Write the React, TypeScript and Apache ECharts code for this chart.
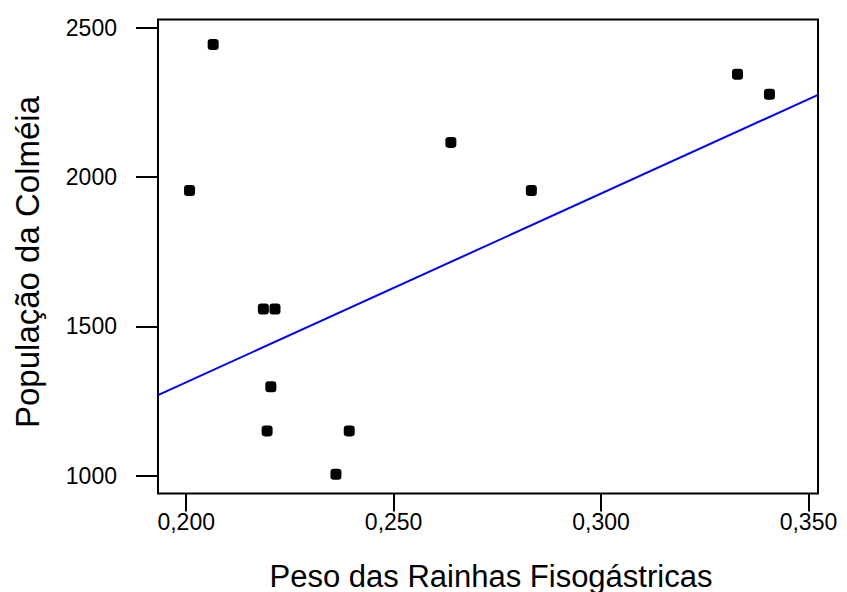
import React, { useEffect, useRef } from "react";
import * as echarts from "echarts";

const xValues = [0.2065, 0.2008, 0.2186, 0.2214, 0.2204, 0.2195, 0.2393, 0.2361, 0.2638, 0.2832, 0.3329, 0.3406];
const yValues = [2444, 1955, 1558, 1558, 1298, 1150, 1150, 1005, 2116, 1955, 2344, 2277];
const fitX = [0.1932, 0.3523];
const fitY = [1270, 2275];
const xTicks = [0.2, 0.25, 0.3, 0.35];
const yTicks = [1000, 1500, 2000, 2500];
const xTitle = "Peso das Rainhas Fisogástricas";
const yTitle = "População da Colméia";

const FONT = "'Liberation Sans', Arial, sans-serif";
const MARKER = "path://M3,0 H7 A3,3 0 0 1 10,3 V7 A3,3 0 0 1 7,10 H3 A3,3 0 0 1 0,7 V3 A3,3 0 0 1 3,0 Z";

export default function App() {
  const ref = useRef<HTMLDivElement>(null);
  useEffect(() => {
    if (!ref.current) return;
    const chart = echarts.init(ref.current, null, { renderer: "svg" });
    const points = xValues.map((x, i) => [x, yValues[i]]);
    const fit = fitX.map((x, i) => [x, fitY[i]]);
    chart.setOption({
      animation: false,
      backgroundColor: "#ffffff",
      grid: {
        left: 158,
        top: 19.5,
        width: 660,
        height: 474,
        show: true,
        borderColor: "#000",
        borderWidth: 2,
        backgroundColor: "transparent",
      },
      xAxis: {
        type: "value",
        min: 0.1932,
        max: 0.3523,
        splitLine: { show: false },
        axisLine: { show: false },
        axisTick: {
          show: true,
          customValues: xTicks,
          length: 18,
          lineStyle: { color: "#000", width: 2 },
        },
        axisLabel: {
          customValues: xTicks,
          margin: 17,
          color: "#000",
          fontSize: 23,
          fontFamily: FONT,
          formatter: (v: number) => v.toFixed(3).replace(".", ","),
        },
      },
      yAxis: {
        type: "value",
        min: 940.4,
        max: 2527.5,
        splitLine: { show: false },
        axisLine: { show: false },
        axisTick: {
          show: true,
          customValues: yTicks,
          length: 22,
          lineStyle: { color: "#000", width: 2 },
        },
        axisLabel: {
          customValues: yTicks,
          margin: 41,
          color: "#000",
          fontSize: 23,
          fontFamily: FONT,
          formatter: (v: number) => String(Math.round(v)),
        },
      },
      graphic: [
        {
          type: "text",
          x: 491,
          y: 576,
          style: {
            text: xTitle,
            fontSize: 31,
            fontFamily: FONT,
            fill: "#000",
            textAlign: "center",
            textVerticalAlign: "middle",
          },
        },
        {
          type: "text",
          x: 27,
          y: 262,
          rotation: Math.PI / 2,
          style: {
            text: yTitle,
            fontSize: 33,
            fontFamily: FONT,
            fill: "#000",
            textAlign: "center",
            textVerticalAlign: "middle",
          },
        },
      ],
      series: [
        {
          type: "line",
          data: fit,
          symbol: "none",
          lineStyle: { color: "#0000ff", width: 2 },
          silent: true,
          z: 2,
        },
        {
          type: "scatter",
          data: points,
          symbol: MARKER,
          symbolSize: 11,
          itemStyle: { color: "#000", opacity: 1 },
          z: 3,
        },
      ],
    });
    return () => chart.dispose();
  }, []);
  return (
    <div
      ref={ref}
      style={{ position: "fixed", left: 0, top: 0, width: 847, height: 592, background: "#fff" }}
    />
  );
}
